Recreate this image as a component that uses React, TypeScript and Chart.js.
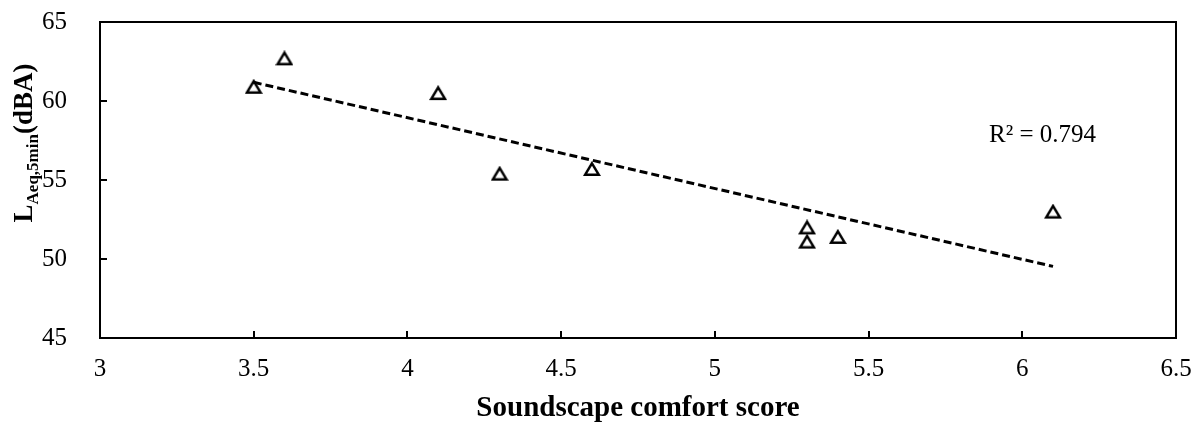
import React, { useEffect, useRef } from "react";
import { Chart, registerables } from "chart.js";

Chart.register(...registerables);

const comfortScores = [3.5, 3.6, 4.1, 4.3, 4.6, 5.3, 5.3, 5.4, 6.1];
const laeqValues = [60.9, 62.7, 60.5, 55.4, 55.7, 52.0, 51.1, 51.4, 53.0];
const xTicks = [3, 3.5, 4, 4.5, 5, 5.5, 6, 6.5];
const yTicks = [45, 50, 55, 60, 65];
const rSquaredLabel = "R² = 0.794";
const xTitle = "Soundscape comfort score";
const yTitleMain = "L";
const yTitleSub = "Aeq,5min";
const yTitleTail = "(dBA)";

const SERIF = "'Liberation Serif', 'Times New Roman', serif";

function linearFit(xs: number[], ys: number[]) {
  const n = xs.length;
  const mx = xs.reduce((a, b) => a + b, 0) / n;
  const my = ys.reduce((a, b) => a + b, 0) / n;
  let sxy = 0;
  let sxx = 0;
  for (let i = 0; i < n; i++) {
    sxy += (xs[i] - mx) * (ys[i] - my);
    sxx += (xs[i] - mx) * (xs[i] - mx);
  }
  const slope = sxy / sxx;
  return { slope, intercept: my - slope * mx };
}

function makeTriangle(): HTMLCanvasElement {
  const c = document.createElement("canvas");
  c.width = 18;
  c.height = 16;
  const g = c.getContext("2d")!;
  g.strokeStyle = "#000";
  g.lineWidth = 2.5;
  g.lineJoin = "miter";
  g.beginPath();
  g.moveTo(9, 2.3);
  g.lineTo(15.8, 13.7);
  g.lineTo(2.2, 13.7);
  g.closePath();
  g.stroke();
  return c;
}

export default function App() {
  const ref = useRef<HTMLCanvasElement | null>(null);

  useEffect(() => {
    document.body.style.margin = "0";
    const canvas = ref.current;
    if (!canvas) return;

    const fit = linearFit(comfortScores, laeqValues);
    const xMinData = Math.min(...comfortScores);
    const xMaxData = Math.max(...comfortScores);
    const trend = [
      { x: xMinData, y: fit.intercept + fit.slope * xMinData },
      { x: xMaxData, y: fit.intercept + fit.slope * xMaxData },
    ];
    const tri = makeTriangle();

    const decor = {
      id: "decor",
      afterDraw(chart: any) {
        const { ctx, chartArea } = chart;
        const xs = chart.scales.x;
        const ys = chart.scales.y;
        const { left, right, top, bottom } = chartArea;
        ctx.save();
        ctx.strokeStyle = "#000";
        ctx.lineWidth = 2;
        ctx.strokeRect(left, top, right - left, bottom - top);
        ctx.beginPath();
        for (const v of xTicks) {
          const px = Math.round(xs.getPixelForValue(v));
          ctx.moveTo(px, bottom);
          ctx.lineTo(px, bottom - 7);
        }
        for (const v of yTicks) {
          const py = Math.round(ys.getPixelForValue(v));
          ctx.moveTo(left, py);
          ctx.lineTo(left + 7, py);
        }
        ctx.stroke();

        // x title
        ctx.fillStyle = "#000";
        ctx.font = `bold 29px ${SERIF}`;
        ctx.textAlign = "center";
        ctx.textBaseline = "alphabetic";
        ctx.fillText(xTitle, (left + right) / 2, 416);

        // R² label
        ctx.font = `25px ${SERIF}`;
        ctx.textAlign = "left";
        ctx.fillText(rSquaredLabel, 989, 142);

        // y title (rotated, with subscript)
        const mainFont = `bold 27px ${SERIF}`;
        const subFont = `bold 17px ${SERIF}`;
        ctx.font = mainFont;
        const wL = ctx.measureText(yTitleMain).width;
        const wTail = ctx.measureText(yTitleTail).width;
        ctx.font = subFont;
        const wSub = ctx.measureText(yTitleSub).width;
        const total = wL + wSub + wTail;
        ctx.translate(32, 143);
        ctx.rotate(-Math.PI / 2);
        let cx = -total / 2;
        ctx.font = mainFont;
        ctx.fillText(yTitleMain, cx, 0);
        cx += wL;
        ctx.font = subFont;
        ctx.fillText(yTitleSub, cx, 6);
        cx += wSub;
        ctx.font = mainFont;
        ctx.fillText(yTitleTail, cx, 0);
        ctx.restore();
      },
    };

    const chart = new Chart(canvas, {
      type: "scatter",
      data: {
        datasets: [
          {
            label: "points",
            data: comfortScores.map((x, i) => ({ x, y: laeqValues[i] })),
            pointStyle: tri as any,
            pointRadius: 8,
            showLine: false,
            order: 0,
          },
          {
            label: "trend",
            type: "line",
            data: trend,
            borderColor: "#000",
            borderWidth: 3,
            borderDash: [8, 4],
            pointRadius: 0,
            fill: false,
            order: 1,
          } as any,
        ],
      },
      options: {
        animation: false,
        responsive: false,
        devicePixelRatio: 1,
        layout: { padding: { left: 0, right: 19, top: 22, bottom: 0 } },
        plugins: {
          legend: { display: false },
          tooltip: { enabled: false },
          title: { display: false },
        },
        scales: {
          x: {
            type: "linear",
            min: 3,
            max: 6.5,
            grid: { display: false },
            border: { display: false },
            afterBuildTicks: (s: any) => {
              s.ticks = xTicks.map((v) => ({ value: v }));
            },
            afterFit: (s: any) => {
              s.height = 85;
              s.paddingLeft = 0;
              s.paddingRight = 0;
            },
            ticks: {
              color: "#000",
              font: { family: SERIF, size: 25 },
              padding: 8,
              maxRotation: 0,
              autoSkip: false,
              callback: (v: any) => String(v),
            },
          },
          y: {
            type: "linear",
            min: 45,
            max: 65,
            grid: { display: false },
            border: { display: false },
            afterBuildTicks: (s: any) => {
              s.ticks = yTicks.map((v) => ({ value: v }));
            },
            afterFit: (s: any) => {
              s.width = 100;
              s.paddingTop = 0;
              s.paddingBottom = 0;
            },
            ticks: {
              color: "#000",
              font: { family: SERIF, size: 25 },
              padding: 25,
              callback: (v: any) => String(v),
            },
          },
        },
      },
      plugins: [decor],
    });

    return () => chart.destroy();
  }, []);

  return (
    <div style={{ position: "absolute", left: 0, top: 0, width: 1195, height: 423 }}>
      <canvas ref={ref} width={1195} height={423} style={{ display: "block" }} />
    </div>
  );
}
